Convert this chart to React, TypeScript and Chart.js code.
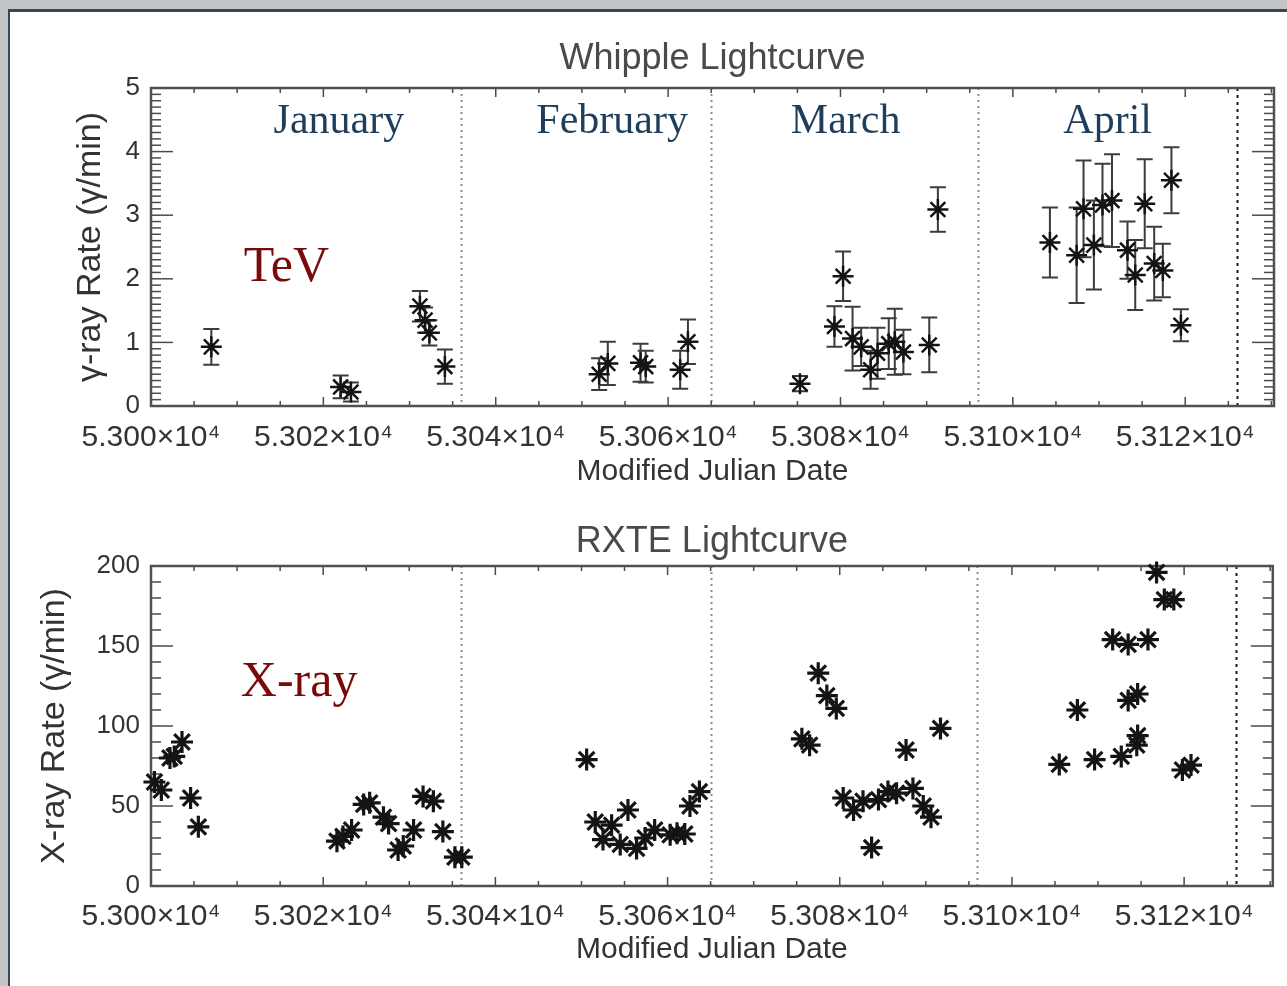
import React, { useEffect, useRef } from 'react';
import { Chart, registerables } from 'chart.js';

Chart.register(...registerables);

// ---------- axes ----------
const X_MIN = 53000;
const X_MAX = 53130.3;
const X_TICKS = [53000, 53020, 53040, 53060, 53080, 53100, 53120];
const MONTH_BOUNDS = [53036, 53065, 53096, 53126];
const MONTH_NAMES = ['January', 'February', 'March', 'April'];
const MONTH_LABEL_MJD = [53021.8, 53053.5, 53080.6, 53111.0];
const MONTH_LABEL_RATE = 4.46;
const TEV_Y_TICKS = [0, 1, 2, 3, 4, 5];
const XR_Y_TICKS = [0, 50, 100, 150, 200];

// ---------- Whipple (TeV) ----------
const TEV_MJD = [
  53007.0, 53022.0, 53023.2, 53031.2, 53031.8, 53032.3, 53034.1,
  53052.0, 53053.0, 53056.8, 53057.4, 53061.4, 53062.3,
  53075.3, 53079.3, 53080.3, 53081.4, 53082.4, 53083.5, 53084.3, 53085.6, 53086.3, 53087.3, 53090.3, 53091.3,
  53104.3, 53107.4, 53108.2, 53109.4, 53110.4, 53111.5, 53113.3, 53114.2, 53115.3, 53116.4, 53117.4, 53118.4, 53119.5,
];
const TEV_RATE = [
  0.93, 0.30, 0.22, 1.57, 1.35, 1.15, 0.62,
  0.50, 0.67, 0.68, 0.62, 0.57, 1.01,
  0.35, 1.25, 2.04, 1.06, 0.93, 0.57, 0.83, 0.98, 1.01, 0.85, 0.96, 3.09,
  2.57, 2.37, 3.10, 2.53, 3.16, 3.23, 2.45, 2.06, 3.18, 2.24, 2.13, 3.55, 1.27,
];
const TEV_ERR = [
  0.28, 0.18, 0.15, 0.24, 0.20, 0.20, 0.27,
  0.25, 0.34, 0.30, 0.25, 0.30, 0.35,
  0.12, 0.32, 0.39, 0.50, 0.30, 0.30, 0.40, 0.40, 0.52, 0.35, 0.43, 0.35,
  0.55, 0.75, 0.76, 0.70, 0.65, 0.73, 0.45, 0.55, 0.70, 0.58, 0.42, 0.52, 0.25,
];

// ---------- RXTE (X-ray) ----------
const XR_MJD = [
  53000.4, 53001.2, 53002.2, 53002.7, 53003.6, 53004.6, 53005.5,
  53021.6, 53022.3, 53023.3, 53024.7, 53025.4, 53027.0, 53027.6, 53028.7, 53029.3, 53030.5, 53031.6, 53032.8, 53033.9, 53035.3, 53036.1,
  53050.6, 53051.6, 53052.5, 53053.5, 53054.5, 53055.4, 53056.4, 53057.4, 53058.5, 53060.3, 53061.1, 53062.0, 53062.6, 53063.7,
  53075.6, 53076.5, 53077.5, 53078.5, 53079.6, 53080.4, 53081.6, 53082.7, 53083.7, 53084.5, 53085.6, 53086.6, 53087.7, 53088.5, 53089.7, 53090.6, 53091.7,
  53105.5, 53107.6, 53109.6, 53111.7, 53112.7, 53113.5, 53113.5, 53114.6, 53114.6, 53114.5, 53115.8, 53116.8, 53117.7, 53118.8, 53119.8, 53120.8,
];
const XR_RATE = [
  65, 60, 80, 81, 90, 55, 37,
  28, 31, 35, 51, 52, 43, 39, 22.5, 25, 35, 56, 53, 34, 18, 18,
  79, 40, 29, 38, 26, 47.5, 23.5, 30, 35, 32, 33, 32.5, 50, 59,
  92, 88, 133, 119, 111, 55, 47.5, 53, 24, 54, 59, 58, 85, 61, 50, 43, 98.5,
  76, 110, 79, 154, 81, 151, 116, 120, 94, 88, 154, 196, 179, 179, 72.5, 75.6,
];

const SANS = "'Liberation Sans', Arial, Helvetica, sans-serif";
const SERIF = "'Liberation Serif', 'Times New Roman', serif";

const fmtX = (v: number) => (v / 1e4).toFixed(3) + '×10⁴';

function framePlugin(minorY: number, majorY: number) {
  return {
    id: 'idlFrame',
    beforeDatasetsDraw(chart: any) {
      const { ctx, chartArea: a } = chart;
      const x = chart.scales.x;
      const y = chart.scales.y;
      ctx.save();
      // month separators
      MONTH_BOUNDS.forEach((m, i) => {
        const px = Math.round(x.getPixelForValue(m)) + 0.5;
        const last = i === MONTH_BOUNDS.length - 1;
        ctx.strokeStyle = last ? '#1a1a1a' : '#8c8c8c';
        ctx.lineWidth = 2;
        ctx.setLineDash(last ? [3, 4] : [2, 4]);
        ctx.beginPath();
        ctx.moveTo(px, a.top);
        ctx.lineTo(px, a.bottom);
        ctx.stroke();
      });
      ctx.setLineDash([]);
      const seg = (x1: number, y1: number, x2: number, y2: number) => {
        ctx.beginPath();
        ctx.moveTo(x1, y1);
        ctx.lineTo(x2, y2);
        ctx.stroke();
      };
      ctx.strokeStyle = '#4a4a4a';
      ctx.lineWidth = 1.5;
      // x ticks (every 5 days, major every 20)
      const nx = Math.floor((x.max - x.min) / 5 + 1e-6);
      for (let k = 0; k <= nx; k++) {
        const v = x.min + k * 5;
        const px = x.getPixelForValue(v);
        const len = k % 4 === 0 ? 9 : 5;
        seg(px, a.bottom, px, a.bottom - len);
        seg(px, a.top, px, a.top + len);
      }
      // y ticks
      const ny = Math.round((y.max - y.min) / minorY);
      const per = Math.round(majorY / minorY);
      for (let k = 0; k <= ny; k++) {
        const v = y.min + k * minorY;
        const py = y.getPixelForValue(v);
        const len = k % per === 0 ? 22 : 10;
        seg(a.left, py, a.left + len, py);
        seg(a.right, py, a.right - len, py);
      }
      // box
      ctx.strokeStyle = '#505050';
      ctx.lineWidth = 2.5;
      ctx.strokeRect(a.left, a.top, a.right - a.left, a.bottom - a.top);
      ctx.restore();
    },
  };
}

const errorBarPlugin = {
  id: 'errBars',
  beforeDatasetsDraw(chart: any) {
    const { ctx } = chart;
    const x = chart.scales.x;
    const y = chart.scales.y;
    ctx.save();
    ctx.strokeStyle = '#3c3c3c';
    ctx.lineWidth = 2;
    TEV_MJD.forEach((m, i) => {
      const px = x.getPixelForValue(m);
      const lo = y.getPixelForValue(TEV_RATE[i] - TEV_ERR[i]);
      const hi = y.getPixelForValue(TEV_RATE[i] + TEV_ERR[i]);
      ctx.beginPath();
      ctx.moveTo(px, lo);
      ctx.lineTo(px, hi);
      ctx.moveTo(px - 8, lo);
      ctx.lineTo(px + 8, lo);
      ctx.moveTo(px - 8, hi);
      ctx.lineTo(px + 8, hi);
      ctx.stroke();
    });
    ctx.restore();
  },
};

type Note = { text: string; x: number; y: number; font: string; color: string };

function notesPlugin(notes: Note[]) {
  return {
    id: 'notes',
    afterDraw(chart: any) {
      const { ctx } = chart;
      const x = chart.scales.x;
      const y = chart.scales.y;
      ctx.save();
      ctx.textAlign = 'center';
      ctx.textBaseline = 'middle';
      notes.forEach((n) => {
        ctx.font = n.font;
        ctx.fillStyle = n.color;
        ctx.fillText(n.text, x.getPixelForValue(n.x), y.getPixelForValue(n.y));
      });
      ctx.restore();
    },
  };
}

function makeConfig(opts: {
  title: string;
  titlePad: { top: number; bottom: number };
  xs: number[];
  ys: number[];
  yTicks: number[];
  yTitle: string;
  yTitlePad: number;
  xAxisHeight: number;
  xLabelPad: number;
  xTitlePad: number;
  markerWidth: number;
  markerRadius: number;
  plugins: any[];
}) {
  return {
    type: 'scatter' as const,
    data: {
      datasets: [
        {
          data: opts.xs.map((m, i) => ({ x: m, y: opts.ys[i] })),
          pointStyle: 'star',
          pointRadius: opts.markerRadius,
          pointBorderColor: '#141414',
          pointBackgroundColor: '#141414',
          pointBorderWidth: opts.markerWidth,
          showLine: false,
          clip: false,
        },
      ],
    },
    options: {
      responsive: false,
      animation: false as const,
      devicePixelRatio: 1,
      events: [],
      layout: { padding: { left: 0, right: 12, top: 0, bottom: 0 } },
      plugins: {
        legend: { display: false },
        tooltip: { enabled: false },
        title: {
          display: true,
          fullSize: false,
          text: opts.title,
          color: '#4a4a4a',
          font: { family: SANS, size: 36, weight: 'normal' as const, lineHeight: 1.2 },
          padding: opts.titlePad,
        },
      },
      scales: {
        x: {
          type: 'linear' as const,
          min: X_MIN,
          max: X_MAX,
          afterBuildTicks: (s: any) => {
            s.ticks = X_TICKS.map((v) => ({ value: v }));
          },
          afterFit: (s: any) => {
            s.height = opts.xAxisHeight;
          },
          ticks: {
            callback: (v: any) => fmtX(Number(v)),
            font: { family: SANS, size: 30 },
            color: '#333',
            padding: opts.xLabelPad,
            maxRotation: 0,
            autoSkip: false,
          },
          grid: { display: false, drawTicks: false, tickLength: 0 },
          border: { display: false },
          title: {
            display: true,
            text: 'Modified Julian Date',
            color: '#333',
            font: { family: SANS, size: 30, lineHeight: 1.2 },
            padding: { top: 0, bottom: opts.xTitlePad },
          },
        },
        y: {
          type: 'linear' as const,
          min: opts.yTicks[0],
          max: opts.yTicks[opts.yTicks.length - 1],
          afterBuildTicks: (s: any) => {
            s.ticks = opts.yTicks.map((v) => ({ value: v }));
          },
          afterFit: (s: any) => {
            s.width = 151;
          },
          ticks: {
            font: { family: SANS, size: 26 },
            color: '#333',
            padding: 11,
            autoSkip: false,
          },
          grid: { display: false, drawTicks: false, tickLength: 0 },
          border: { display: false },
          title: {
            display: true,
            text: opts.yTitle,
            color: '#333',
            font: { family: SANS, size: 34, lineHeight: 1.2 },
            padding: { top: opts.yTitlePad, bottom: 0 },
          },
        },
      },
    },
    plugins: opts.plugins,
  };
}

export default function App() {
  const topRef = useRef<HTMLCanvasElement | null>(null);
  const botRef = useRef<HTMLCanvasElement | null>(null);

  useEffect(() => {
    const monthNotes: Note[] = MONTH_NAMES.map((name, i) => ({
      text: name,
      x: MONTH_LABEL_MJD[i],
      y: MONTH_LABEL_RATE,
      font: `42px ${SERIF}`,
      color: '#1f3d5c',
    }));
    const topCfg = makeConfig({
      title: 'Whipple Lightcurve',
      titlePad: { top: 37.4, bottom: 7.4 },
      xs: TEV_MJD,
      ys: TEV_RATE,
      yTicks: TEV_Y_TICKS,
      yTitle: 'γ-ray Rate (γ/min)',
      yTitlePad: 70.6,
      xAxisHeight: 89,
      xLabelPad: 13.5,
      xTitlePad: 5,
      markerWidth: 2.5,
      markerRadius: 10.5,
      plugins: [
        framePlugin(0.1, 1),
        errorBarPlugin,
        notesPlugin([
          ...monthNotes,
          { text: 'TeV', x: 53015.7, y: 2.17, font: `50px ${SERIF}`, color: '#7a0a0a' },
        ]),
      ],
    });
    const botCfg = makeConfig({
      title: 'RXTE Lightcurve',
      titlePad: { top: 25.4, bottom: 2.4 },
      xs: XR_MJD,
      ys: XR_RATE,
      yTicks: XR_Y_TICKS,
      yTitle: 'X-ray Rate (γ/min)',
      yTitlePad: 34.6,
      xAxisHeight: 100,
      xLabelPad: 13,
      xTitlePad: 18,
      markerWidth: 3.2,
      markerRadius: 11,
      plugins: [
        framePlugin(10, 50),
        notesPlugin([
          { text: 'X-ray', x: 53017.2, y: 126.9, font: `50px ${SERIF}`, color: '#7a0a0a' },
        ]),
      ],
    });
    const c1 = new Chart(topRef.current as HTMLCanvasElement, topCfg as any);
    const c2 = new Chart(botRef.current as HTMLCanvasElement, botCfg as any);
    return () => {
      c1.destroy();
      c2.destroy();
    };
  }, []);

  return (
    <div
      style={{
        position: 'fixed',
        left: 0,
        top: 0,
        width: 1287,
        height: 986,
        overflow: 'hidden',
        background: '#c3c3c6',
      }}
    >
      <div
        style={{
          position: 'absolute',
          left: 8,
          top: 9,
          width: 1300,
          height: 1000,
          background: '#ffffff',
          borderTop: '3px solid #34495a',
          borderLeft: '2px solid #34495a',
        }}
      />
      <canvas
        ref={topRef}
        width={1287}
        height={495}
        style={{ position: 'absolute', left: 0, top: 0, width: 1287, height: 495 }}
      />
      <canvas
        ref={botRef}
        width={1287}
        height={491}
        style={{ position: 'absolute', left: 0, top: 495, width: 1287, height: 491 }}
      />
    </div>
  );
}
